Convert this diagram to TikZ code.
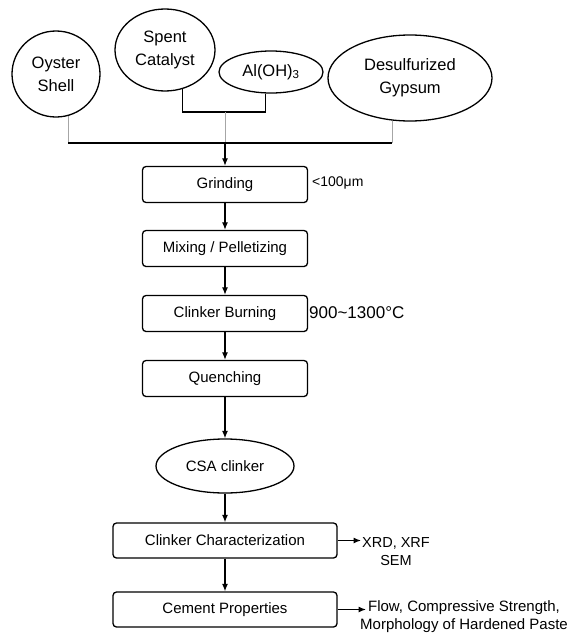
\documentclass[tikz,border=0pt]{standalone}
\usepackage{fontspec}
\setmainfont{Liberation Sans}
\usetikzlibrary{shapes.geometric,arrows.meta}

\def\faintcolor{black!35}

\begin{document}
\begin{tikzpicture}[x=1pt,y=1pt,
  box/.style={draw,line width=1.3pt,rounded corners=3.5pt,minimum width=165pt,
    minimum height=36pt,inner sep=0pt,font=\fontsize{15}{18}\selectfont},
  widebox/.style={box,minimum width=224pt,minimum height=35pt},
  blob/.style={draw,ellipse,line width=1.3pt,inner sep=0pt,align=center,
    font=\fontsize{16.5}{23}\selectfont},
  arr/.style={-{Latex[length=7.5pt,width=6pt]},line width=1.2pt},
  faint/.style={draw=\faintcolor,line width=0.6pt},
  sidetxt/.style={inner sep=0pt,align=center,font=\fontsize{14.5}{18}\selectfont}]
  \useasboundingbox (0,0) rectangle (577,-635);

  % raw materials
  \node[blob,minimum width=88pt,minimum height=86pt] (oyster) at (56,-74) {Oyster\\Shell};
  \node[blob,minimum width=100pt,minimum height=82pt] (spent) at (165,-50) {Spent\\Catalyst};
  \node[blob,minimum width=104pt,minimum height=42pt] (al) at (271,-72) {Al(OH)\textsubscript{3}};
  \node[blob,minimum width=164pt,minimum height=86pt] (gypsum) at (410,-78) {Desulfurized\\Gypsum};

  \coordinate (join) at (225,-112);
  \coordinate (bus) at (225,-143);
  \draw[line width=1.2pt] (spent.-66) |- (join) -| (al.-105);
  \draw[faint] (join) -- (bus);
  \draw[faint] (oyster.-74) -- (oyster.-74 |- bus);
  \draw[faint] (gypsum.-113) -- (gypsum.-113 |- bus);
  \draw[line width=1.2pt] (oyster.-74 |- bus) -- (gypsum.-113 |- bus);

  % process
  \node[box] (grind) at (225,-184.5) {Grinding};
  \node[box] (mix) at (225,-248.5) {Mixing / Pelletizing};
  \node[box] (burn) at (225,-313.5) {Clinker Burning};
  \node[box] (quench) at (225,-378.5) {Quenching};
  \node[blob,minimum width=138pt,minimum height=54pt,font=\fontsize{15}{18}\selectfont]
    (csa) at (225,-466) {CSA clinker};
  \node[widebox] (char) at (225,-540.5) {Clinker Characterization};
  \node[widebox] (cement) at (225,-609.5) {Cement Properties};

  \draw[arr] (bus) -- (grind);
  \foreach \a/\b in {grind/mix,mix/burn,burn/quench,quench/csa,csa/char,char/cement}
    \draw[arr] (\a) -- (\b);

  % conditions and results
  \node[sidetxt,anchor=west,font=\fontsize{14}{16}\selectfont] (size) at (312,-183) {<100μm};
  \node[sidetxt,anchor=west,font=\fontsize{17}{19}\selectfont] (temp) at (309,-313)
    {900\textasciitilde 1300°C};
  \node[sidetxt,anchor=north] (xrd) at (396,-537) {XRD, XRF\\SEM};
  \node[sidetxt,anchor=north,font=\fontsize{15}{18}\selectfont] (props) at (464,-600)
    {Flow, Compressive Strength,\\Morphology of Hardened Paste};
  \coordinate (xrdtip) at (361,-540.5);
  \coordinate (propstip) at (366,-609.5);
  \draw[arr] (char) -- (xrdtip);
  \draw[arr] (cement) -- (propstip);
\end{tikzpicture}
\end{document}
